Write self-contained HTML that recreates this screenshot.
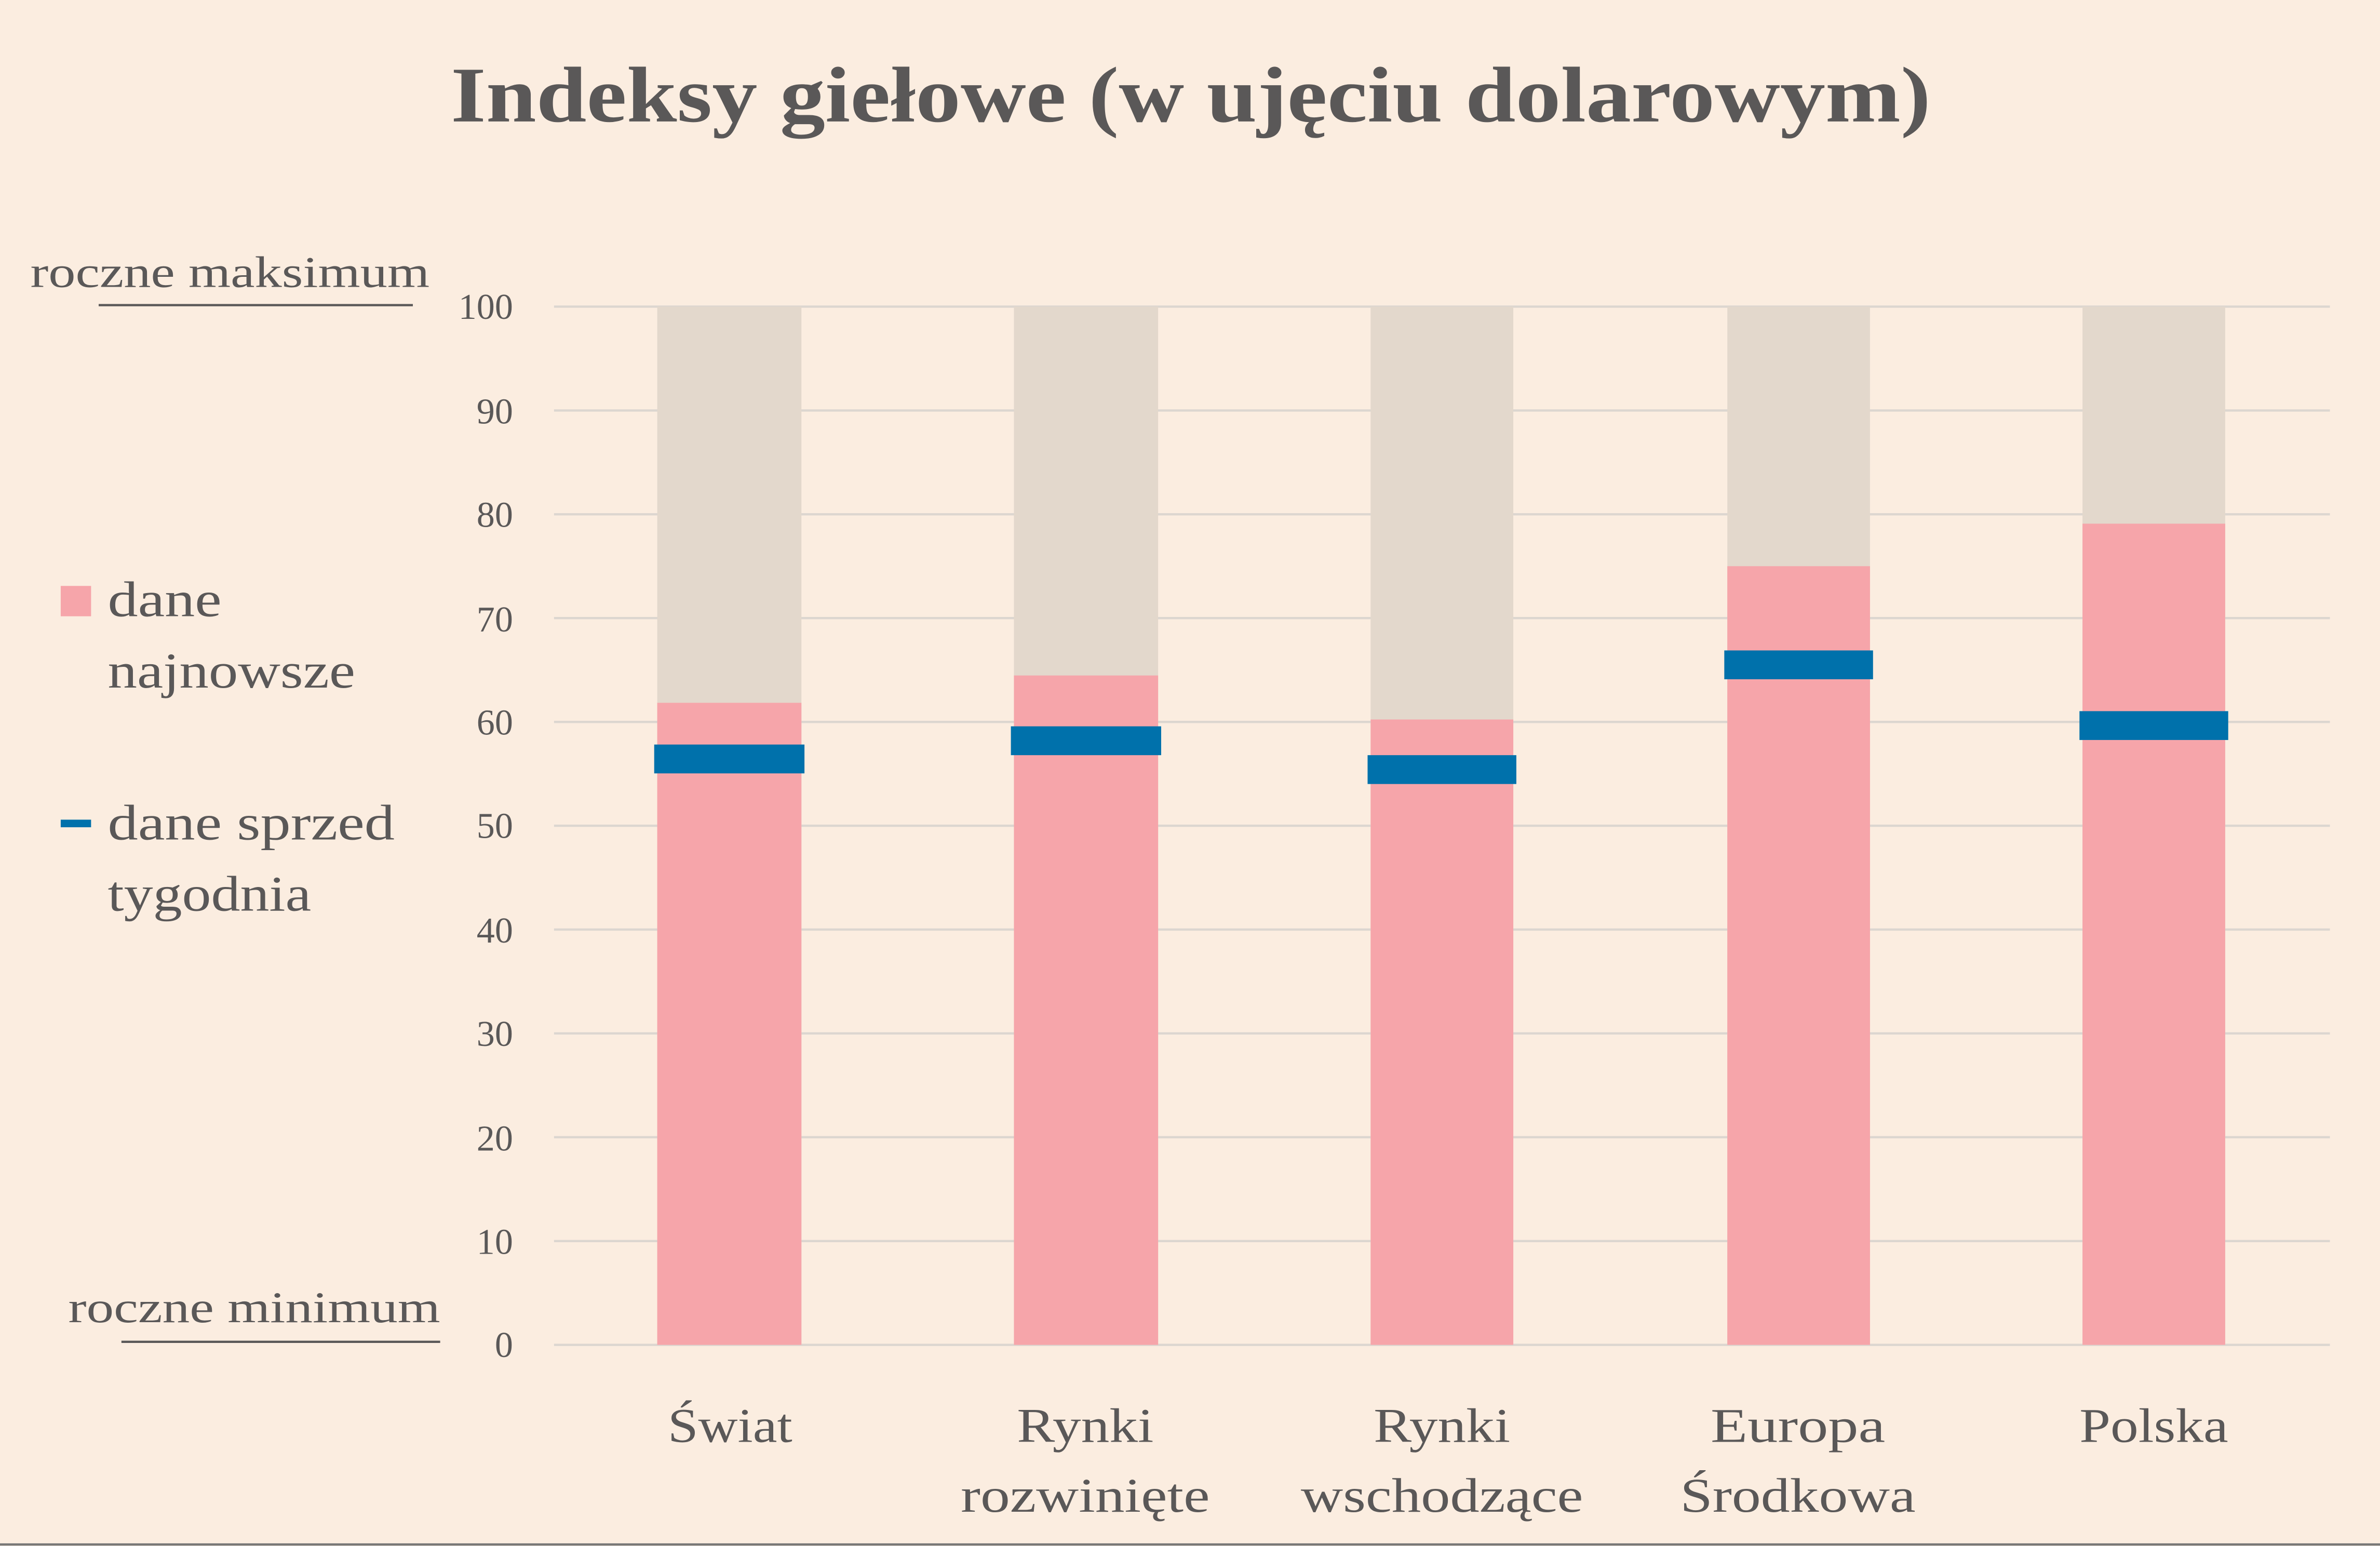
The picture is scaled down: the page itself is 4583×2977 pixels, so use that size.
<!DOCTYPE html>
<html><head><meta charset="utf-8"><style>
html,body{margin:0;padding:0;background:#fbede0;}
svg{display:block;}
text{font-family:"Liberation Serif",serif;fill:#5a5858;}
</style></head><body>
<svg width="4583" height="2977" viewBox="0 0 1568 1018.5" xmlns="http://www.w3.org/2000/svg">
<rect width="1568" height="1018.5" fill="#fbede0"/>
<text x="297" y="80" font-size="52" font-weight="bold" fill="#555" textLength="975" lengthAdjust="spacingAndGlyphs">Indeksy giełowe (w ujęciu dolarowym)</text>
<g stroke="#dcd6d0" stroke-width="1.5">
<line x1="365" x2="1535" y1="202" y2="202"/><line x1="365" x2="1535" y1="270.4" y2="270.4"/>
<line x1="365" x2="1535" y1="338.8" y2="338.8"/><line x1="365" x2="1535" y1="407.2" y2="407.2"/>
<line x1="365" x2="1535" y1="475.6" y2="475.6"/><line x1="365" x2="1535" y1="544" y2="544"/>
<line x1="365" x2="1535" y1="612.4" y2="612.4"/><line x1="365" x2="1535" y1="680.8" y2="680.8"/>
<line x1="365" x2="1535" y1="749.2" y2="749.2"/><line x1="365" x2="1535" y1="817.6" y2="817.6"/>
<line x1="365" x2="1535" y1="886" y2="886"/>
</g>
<g font-size="24" text-anchor="end">
<text x="338" y="210">100</text><text x="338" y="279">90</text><text x="338" y="347">80</text>
<text x="338" y="416">70</text><text x="338" y="484">60</text><text x="338" y="552">50</text>
<text x="338" y="621">40</text><text x="338" y="689">30</text><text x="338" y="758">20</text>
<text x="338" y="826">10</text><text x="338" y="894">0</text>
</g>
<g fill="#e3d8cc">
<rect x="433" y="202" width="95" height="684"/><rect x="668" y="202" width="95" height="684"/>
<rect x="903" y="202" width="94" height="684"/><rect x="1138" y="202" width="94" height="684"/>
<rect x="1372" y="202" width="94" height="684"/>
</g>
<g fill="#f6a5aa">
<rect x="433" y="463" width="95" height="423"/><rect x="668" y="445" width="95" height="441"/>
<rect x="903" y="474" width="94" height="412"/><rect x="1138" y="373" width="94" height="513"/>
<rect x="1372" y="345" width="94" height="541"/>
</g>
<g fill="#0071ab">
<rect x="431" y="490.5" width="99" height="19"/><rect x="666" y="478.5" width="99" height="19"/>
<rect x="901" y="497.5" width="98" height="19"/><rect x="1136" y="428.5" width="98" height="19"/>
<rect x="1370" y="468.5" width="98" height="19"/>
</g>
<g font-size="32" lengthAdjust="spacingAndGlyphs">
<text x="440" y="950" textLength="82" lengthAdjust="spacingAndGlyphs">Świat</text>
<text x="670" y="950" textLength="90" lengthAdjust="spacingAndGlyphs">Rynki</text>
<text x="633" y="996" textLength="164" lengthAdjust="spacingAndGlyphs">rozwinięte</text>
<text x="905" y="950" textLength="90" lengthAdjust="spacingAndGlyphs">Rynki</text>
<text x="857" y="996" textLength="186" lengthAdjust="spacingAndGlyphs">wschodzące</text>
<text x="1127" y="950" textLength="115" lengthAdjust="spacingAndGlyphs">Europa</text>
<text x="1107" y="996" textLength="155" lengthAdjust="spacingAndGlyphs">Środkowa</text>
<text x="1370" y="950" textLength="98" lengthAdjust="spacingAndGlyphs">Polska</text>
</g>
<text x="20" y="189" font-size="29" textLength="263" lengthAdjust="spacingAndGlyphs">roczne maksimum</text>
<line x1="65" x2="272" y1="201" y2="201" stroke="#5a5858" stroke-width="1.5"/>
<text x="45" y="871" font-size="29" textLength="245" lengthAdjust="spacingAndGlyphs">roczne minimum</text>
<line x1="80" x2="290" y1="884" y2="884" stroke="#5a5858" stroke-width="1.5"/>
<rect x="40" y="386" width="20" height="20" fill="#f6a5aa"/>
<text x="71" y="406" font-size="33" textLength="75" lengthAdjust="spacingAndGlyphs">dane</text>
<text x="71" y="453" font-size="33" textLength="163" lengthAdjust="spacingAndGlyphs">najnowsze</text>
<rect x="40" y="540" width="20" height="5" fill="#0071ab"/>
<text x="71" y="553" font-size="33" textLength="189" lengthAdjust="spacingAndGlyphs">dane sprzed</text>
<text x="71" y="600" font-size="33" textLength="134" lengthAdjust="spacingAndGlyphs">tygodnia</text>
<line x1="0" x2="1568" y1="1017.5" y2="1017.5" stroke="#777" stroke-width="1.5"/>
</svg>
</body></html>
